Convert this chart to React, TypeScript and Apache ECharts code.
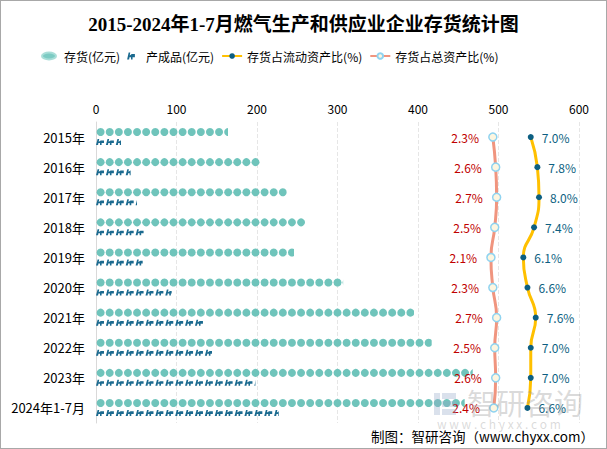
import React, { useEffect, useRef } from "react";
import * as echarts from "echarts";

const categories = ["2015年", "2016年", "2017年", "2018年", "2019年", "2020年", "2021年", "2022年", "2023年", "2024年1-7月"];
const inventory = [164, 204, 237, 260, 246, 307, 395, 417, 468, 458];
const products = [31, 43, 51, 60, 58, 94, 134, 144, 198, 227];
const currentRatio = [7.0, 7.8, 8.0, 7.4, 6.1, 6.6, 7.6, 7.0, 7.0, 6.6];
const totalRatio = [2.3, 2.6, 2.7, 2.5, 2.1, 2.3, 2.7, 2.5, 2.6, 2.4];
const seriesNames = ["存货(亿元)", "产成品(亿元)", "存货占流动资产比(%)", "存货占总资产比(%)"];

const FONT = "'Liberation Serif', 'Noto Sans CJK SC', serif";
const SANS = "'Noto Sans CJK SC', 'DejaVu Sans', sans-serif";
const productPath = "path://M0,9 L2,0 L4,0 L3.4,4 L6,2 L10,2 L10,6 L7,6 L7,9 L5,9 L5,6 L3,6 L2.6,9 Z";
const ellipsePath = "path://M0,5 A10,5 0 1,0 20,5 A10,5 0 1,0 0,5 Z";

export default function App() {
  const ref = useRef<HTMLDivElement>(null);
  useEffect(() => {
    if (!ref.current) return;
    const chart = echarts.init(ref.current, undefined, { renderer: "svg" });
    chart.setOption({
      animation: false,
      backgroundColor: "#fff",
      title: {
        text: "2015-2024年1-7月燃气生产和供应业企业存货统计图",
        left: "center",
        top: 9,
        textStyle: { fontFamily: FONT, fontSize: 19, fontWeight: "bold", color: "#000" },
      },
      legend: {
        top: 44,
        left: 35,
        itemWidth: 20,
        itemHeight: 7,
        itemGap: 7,
        textStyle: { fontFamily: SANS, fontSize: 12, color: "#000" },
        data: [
          { name: seriesNames[0], icon: ellipsePath, itemStyle: { color: "#7ccbc3" } },
          { name: seriesNames[1], icon: productPath },
          { name: seriesNames[2] },
          { name: seriesNames[3] },
        ],
      },
      grid: { left: 95, right: 27, top: 121, bottom: 25, containLabel: false },
      xAxis: [
        {
          type: "value",
          position: "top",
          min: 0,
          max: 600,
          interval: 100,
          axisLine: { show: false },
          axisTick: { show: false },
          axisLabel: { color: "#000", fontSize: 12, fontFamily: SANS, margin: 8 },
          splitLine: { show: true, lineStyle: { color: "#e6e6e6", type: "dashed" } },
        },
        { type: "value", show: false, min: -45.63, max: 12.84, position: "top" },
        { type: "value", show: false, min: -39.47, max: 11.37, position: "top" },
      ],
      yAxis: {
        type: "category",
        inverse: true,
        data: categories,
        axisLine: { show: true, lineStyle: { color: "#d9d9d9" } },
        axisTick: { show: false },
        axisLabel: { color: "#000", fontSize: 13, fontFamily: SANS, margin: 11 },
      },
      graphic: [
        { type: "rect", left: 433, top: 392, shape: { width: 6, height: 22 }, style: { fill: "rgba(150,170,200,0.35)" }, z: 100 },
        { type: "rect", left: 441, top: 392, shape: { width: 14, height: 6 }, style: { fill: "rgba(150,170,200,0.35)" }, z: 100 },
        { type: "rect", left: 441, top: 400, shape: { width: 14, height: 6 }, style: { fill: "rgba(150,170,200,0.35)" }, z: 100 },
        { type: "rect", left: 441, top: 408, shape: { width: 14, height: 6 }, style: { fill: "rgba(150,170,200,0.35)" }, z: 100 },
        { type: "text", left: 466, top: 386, style: { text: "智研咨询", fontSize: 29, fontFamily: SANS, fill: "rgba(150,150,150,0.35)" }, z: 100 },
        { type: "text", left: 436, top: 416, style: { text: "w w w . c h y x x . c o m", fontSize: 12, fontFamily: SANS, fill: "rgba(150,150,150,0.35)" }, z: 100 },
        { type: "text", right: 12, top: 428, style: { text: "制图：智研咨询（www.chyxx.com）", fontSize: 13.5, fontFamily: SANS, fill: "#000" }, z: 101 },
      ],
      series: [
        {
          name: seriesNames[0],
          type: "pictorialBar",
          data: inventory,
          symbol: "circle",
          symbolSize: [8, 8],
          symbolRepeat: true,
          symbolMargin: 0,
          symbolClip: true,
          symbolOffset: [0, -5],
          barWidth: 10,
          barGap: "-100%",
          itemStyle: { color: "#6fc4bb", borderColor: "#a9ded8", borderWidth: 1.2 },
          z: 3,
        },
        {
          name: seriesNames[1],
          type: "pictorialBar",
          data: products,
          symbol: productPath,
          symbolSize: [8, 6],
          symbolRepeat: true,
          symbolMargin: 1,
          symbolClip: true,
          symbolOffset: [0, 5],
          barWidth: 10,
          barGap: "-100%",
          itemStyle: { color: "#1b6a8f" },
          z: 3,
        },
        {
          name: seriesNames[2],
          type: "line",
          xAxisIndex: 1,
          data: currentRatio,
          smooth: true,
          symbol: "circle",
          symbolSize: 6,
          lineStyle: { color: "#ffc000", width: 3 },
          itemStyle: { color: "#0d5f82" },
          label: {
            show: true,
            position: "right",
            distance: 8,
            formatter: (p: any) => p.value.toFixed(1) + "%",
            color: "#0d5f82",
            fontSize: 12,
            fontFamily: SANS,
          },
          z: 5,
        },
        {
          name: seriesNames[3],
          type: "line",
          xAxisIndex: 2,
          data: totalRatio,
          smooth: true,
          symbol: "circle",
          symbolSize: 8,
          lineStyle: { color: "#f0957f", width: 3, type: "solid" },
          itemStyle: { color: "#fdf6e0", borderColor: "#8fd3f0", borderWidth: 1.5, borderType: "solid" },
          label: {
            show: true,
            position: "left",
            distance: 9,
            formatter: (p: any) => p.value.toFixed(1) + "%",
            color: "#c00000",
            fontSize: 12,
            fontFamily: SANS,
          },
          z: 5,
        },
      ],
    });
    return () => chart.dispose();
  }, []);
  return (
    <div
      style={{
        position: "absolute",
        left: 0,
        top: 0,
        width: 607,
        height: 449,
        boxSizing: "border-box",
        border: "1px solid #a8a8a8",
        background: "#fff",
      }}
    >
      <div ref={ref} style={{ width: 605, height: 447 }} />
    </div>
  );
}
